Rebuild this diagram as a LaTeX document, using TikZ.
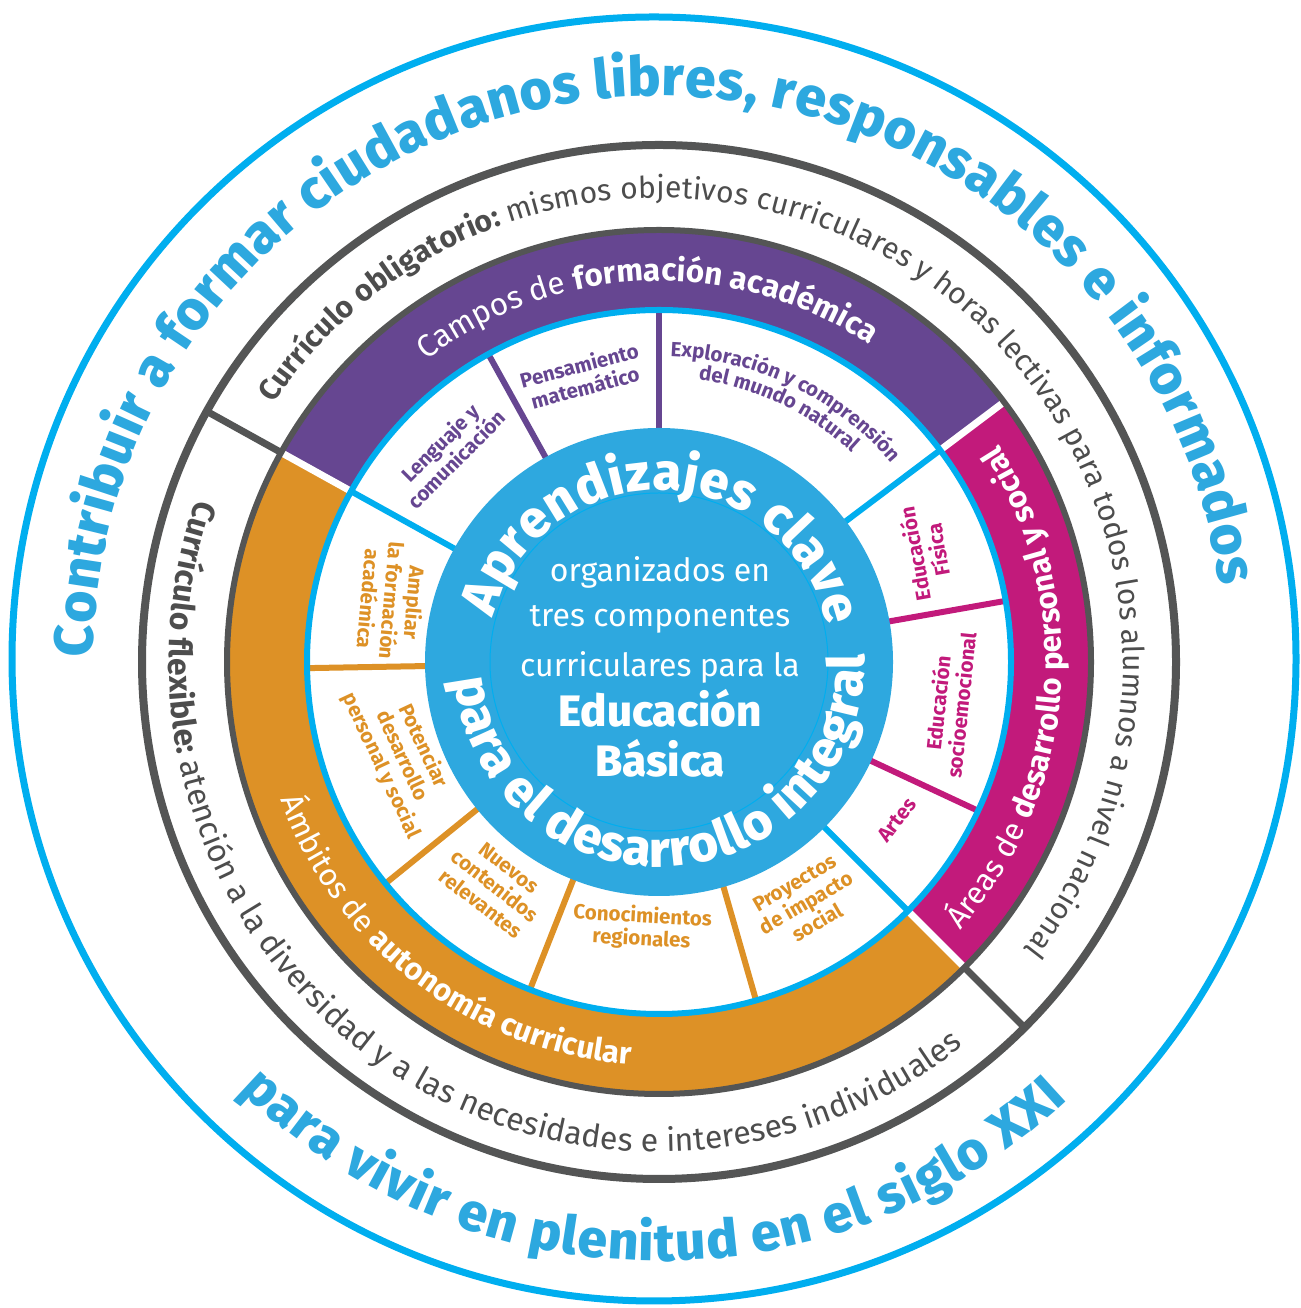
\documentclass[tikz,border=0pt]{standalone}
\usepackage{fontspec}
\setmainfont{Fira Sans}
\IfFontExistsTF{Fira Sans ExtraBold}{\newfontfamily\heavyf{Fira Sans ExtraBold}}{\newcommand\heavyf{\bfseries}}
\usetikzlibrary{decorations.text}
\definecolor{cyanL}{RGB}{0,174,239}
\definecolor{blueT}{RGB}{45,168,223}
\definecolor{discB}{RGB}{46,168,223}
\definecolor{grayC}{RGB}{84,85,85}
\definecolor{grayT}{RGB}{77,77,77}
\definecolor{purpleC}{RGB}{102,70,145}
\definecolor{magC}{RGB}{194,26,123}
\definecolor{orC}{RGB}{221,145,38}
\newcommand\fsz[1]{\fontsize{#1}{#1}\selectfont}
\begin{document}
\begin{tikzpicture}[x=1pt,y=1pt,
  lab/.style={font={\fontsize{20.5}{23}\selectfont\bfseries}, align=center, inner sep=0pt},
  ctext/.style={anchor=base, text=white, inner sep=0pt},
  arctext/.style={decorate, decoration={text along path, text align=center, text color=#1}},
  arcfit/.style={decorate, decoration={text along path, text align={fit to path}, text color=#1}}]
\useasboundingbox (0,0) rectangle (1300,1308);
\fill[white] (0,0) rectangle (1300,1308);
% outer blue circle
\draw[cyanL, line width=7pt] (654,649) circle[radius=642];
\begin{scope}[shift={(659,646)}]
  % gray outer ring
  \draw[grayC, line width=8pt] (0,0) circle[radius=517];
  % coloured band
  \fill[purpleC] (37:432) arc[start angle=37, end angle=151, radius=432] -- (151:352) arc[start angle=151, end angle=37, radius=352] -- cycle;
  \fill[magC] (-45:432) arc[start angle=-45, end angle=37, radius=432] -- (37:352) arc[start angle=37, end angle=-45, radius=352] -- cycle;
  \fill[orC] (151:432) arc[start angle=151, end angle=315, radius=432] -- (315:352) arc[start angle=315, end angle=151, radius=352] -- cycle;
  % white gaps
  \foreach \a in {37,151,315} \draw[white, line width=7pt] (\a:349) -- (\a:434);
  % gray dividers
  \foreach \a in {151,315} \draw[grayC, line width=7pt] (\a:432) -- (\a:517);
  \draw[grayC, line width=6pt] (0,0) circle[radius=432];
  % sector lines
  \foreach \a in {119,90} \draw[purpleC, line width=6pt] (\a:230) -- (\a:352);
  \foreach \a in {10,-25} \draw[magC, line width=6pt] (\a:230) -- (\a:352);
  \foreach \a in {-74,-111.5,219,181} \draw[orC, line width=6pt] (\a:230) -- (\a:352);
  \foreach \a in {151,37,-45} \draw[cyanL, line width=6pt] (\a:230) -- (\a:352);
  \draw[cyanL, line width=6pt] (0,0) circle[radius=352];
  % central disc
  \fill[discB] (0,0) circle[radius=234];
  \draw[cyanL, line width=1pt] (0,0) circle[radius=169];

  % ---- outer blue texts
  \path[arcfit=blueT, decoration={text={|\fsz{55}\heavyf|Contribuir a formar ciudadanos libres, responsables e informados}}]
    (179.5:566) arc[start angle=179.5, end angle=7.8, radius=566];
  \path[arcfit=blueT, decoration={text={|\fsz{53}\heavyf|para vivir en plenitud en el siglo XXI}}]
    (225.6:599) arc[start angle=225.6, end angle=313, radius=599];

  % ---- gray ring texts
  \path[arcfit=grayT, decoration={text={|\fsz{30}\bfseries|Currículo obligatorio: |\fsz{30}|mismos objetivos curriculares y horas lectivas para todos los alumnos a nivel nacional}}]
    (146.2:464) arc[start angle=146.2, end angle=-38.3, radius=464];
  \path[arcfit=grayT, decoration={text={|\fsz{32}\bfseries|Currículo flexible: |\fsz{32}|atención a la diversidad y a las necesidades e intereses individuales}}]
    (160.6:490) arc[start angle=160.6, end angle=308.4, radius=490];

  % ---- band texts
  \path[arctext=white, decoration={text={|\fsz{31.5}|Campos de |\fsz{31.5}\bfseries|formación académica}}]
    (162:381) arc[start angle=162, end angle=22, radius=381];
  \path[arctext=white, decoration={text={|\fsz{31}|Áreas de |\fsz{31}\bfseries|desarrollo personal y social}}]
    (-84.5:403) arc[start angle=-84.5, end angle=75.5, radius=403];
  \path[arctext=white, decoration={text={|\fsz{31}|Ámbitos de |\fsz{31}\bfseries|autonomía curricular}}]
    (153:403) arc[start angle=153, end angle=313, radius=403];

  % ---- disc texts
  \path[arcfit=white, decoration={text={|\fsz{52}\heavyf|Aprendizajes clave}}]
    (165:172) arc[start angle=165, end angle=12, radius=172];
  \path[arcfit=white, decoration={text={|\fsz{51}\heavyf|para el desarrollo integral}}]
    (184.9:205) arc[start angle=184.9, end angle=362, radius=205];
  \node[ctext, font=\fsz{32}] (c1) at (1,80) {organizados en};
  \node[ctext, font=\fsz{32}] (c2) at (1,35) {tres componentes};
  \node[ctext, font=\fsz{32}] (c3) at (1,-15) {curriculares para la};
  \node[ctext, font={\fsz{44}\heavyf}] (c4) at (1,-65) {Educación};
  \node[ctext, font={\fsz{44}\heavyf}] (c5) at (1,-115) {Básica};

  % ---- sector labels
  \node[lab, text=purpleC, rotate=45] (s1) at (-211,211) {Lenguaje y\\comunicación};
  \node[lab, text=purpleC, rotate=15] (s2) at (-77,286) {Pensamiento\\matemático};
  \path[arctext=purpleC, decoration={text={|\fontsize{20.5}{23}\selectfont\bfseries|Exploración y comprensión}}]
    (104.2:306) arc[start angle=104.2, end angle=24.2, radius=306];
  \path[arctext=purpleC, decoration={text={|\fontsize{20.5}{23}\selectfont\bfseries|del mundo natural}}]
    (104.7:285) arc[start angle=104.7, end angle=24.7, radius=285];
  \node[lab, text=magC, rotate=100] (s4) at (267,110) {Educación\\Física};
  \node[lab, text=magC, rotate=84] (s5) at (290,-42) {Educación\\socioemocional};
  \node[lab, text=magC, rotate=52] (s6) at (238,-158) {Artes};
  \node[lab, text=orC, rotate=-95] (s7) at (-267,61) {Ampliar\\la formación\\académica};
  \node[lab, text=orC, rotate=-65] (s8) at (-257,-94) {Potenciar\\desarrollo\\personal y social};
  \node[lab, text=orC, rotate=-38] (s9) at (-164,-224) {Nuevos\\contenidos\\relevantes};
  \node[lab, text=orC, rotate=-3] (s10) at (-17,-266) {Conocimientos\\regionales};
  \node[lab, text=orC, rotate=30] (s11) at (147,-241) {Proyectos\\de impacto\\social};
\end{scope}
\end{tikzpicture}
\end{document}
